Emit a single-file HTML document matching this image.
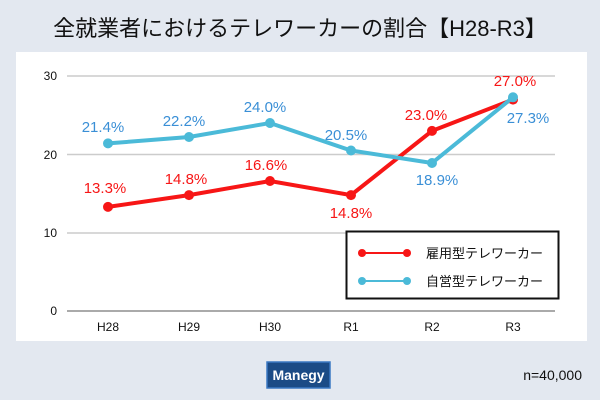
<!DOCTYPE html>
<html><head><meta charset="utf-8"><style>
body{margin:0;width:600px;height:400px;background:#e3e8f0;font-family:"Liberation Sans","Noto Sans CJK JP",sans-serif;overflow:hidden;position:relative}
</style></head><body>
<div style="position:absolute;left:0;top:11px;width:600px;text-align:center;font-size:22px;color:#111;">全就業者におけるテレワーカーの割合【H28-R3】</div>
<svg style="position:absolute;left:0;top:0" width="600" height="400" font-family="Liberation Sans, Noto Sans CJK JP, sans-serif">
<rect x="16" y="52" width="571" height="289" fill="#fff"/>
<g stroke="#ccc" stroke-width="1.5">
<line x1="67" y1="76" x2="555" y2="76"/><line x1="67" y1="154.5" x2="555" y2="154.5"/><line x1="67" y1="233" x2="555" y2="233"/>
</g>
<line x1="67" y1="311" x2="555" y2="311" stroke="#aaa" stroke-width="2"/>
<g font-size="12" fill="#111" text-anchor="end"><text x="57" y="80">30</text><text x="57" y="159">20</text><text x="57" y="237">10</text><text x="57" y="315">0</text></g>
<g font-size="12" fill="#111" text-anchor="middle"><text x="108" y="331">H28</text><text x="189" y="331">H29</text><text x="270" y="331">H30</text><text x="351" y="331">R1</text><text x="432" y="331">R2</text><text x="513" y="331">R3</text></g>
<polyline fill="none" stroke="#f71616" stroke-width="4" points="108,206.9 189,195.1 270,181 351,195.1 432,130.9 513,99.6"/>
<g fill="#f71616"><circle cx="108" cy="206.9" r="5"/><circle cx="189" cy="195.1" r="5"/><circle cx="270" cy="181" r="5"/><circle cx="351" cy="195.1" r="5"/><circle cx="432" cy="130.9" r="5"/><circle cx="513" cy="99.6" r="5"/></g>
<polyline fill="none" stroke="#4bbad8" stroke-width="4" points="108,143.4 189,137 270,123 351,150.5 432,163 513,97.3"/>
<g fill="#4bbad8"><circle cx="108" cy="143.4" r="5"/><circle cx="189" cy="137" r="5"/><circle cx="270" cy="123" r="5"/><circle cx="351" cy="150.5" r="5"/><circle cx="432" cy="163" r="5"/><circle cx="513" cy="97.3" r="5"/></g>
<g font-size="15" fill="#3a8fd6" text-anchor="middle"><text x="103" y="132">21.4%</text><text x="184" y="126">22.2%</text><text x="265" y="112">24.0%</text><text x="346" y="140">20.5%</text><text x="437" y="185">18.9%</text><text x="528" y="123">27.3%</text></g>
<g font-size="15" fill="#f71616" text-anchor="middle"><text x="105" y="193">13.3%</text><text x="186" y="184">14.8%</text><text x="266" y="170">16.6%</text><text x="351" y="218">14.8%</text><text x="426" y="120">23.0%</text><text x="515" y="86">27.0%</text></g>
<rect x="346.5" y="231.5" width="212" height="67" fill="#fff" stroke="#111" stroke-width="2"/>
<line x1="362" y1="253" x2="407" y2="253" stroke="#f71616" stroke-width="2"/><circle cx="362" cy="253" r="4" fill="#f71616"/><circle cx="407" cy="253" r="4" fill="#f71616"/>
<line x1="362" y1="281" x2="407" y2="281" stroke="#4bbad8" stroke-width="2"/><circle cx="362" cy="281" r="4" fill="#4bbad8"/><circle cx="407" cy="281" r="4" fill="#4bbad8"/>
<g font-size="13" fill="#111"><text x="426" y="258">雇用型テレワーカー</text><text x="426" y="286">自営型テレワーカー</text></g>
<rect x="267" y="362" width="63" height="26" fill="#1b4b86" stroke="#3a78c2" stroke-width="1.5"/>
<text x="298.5" y="380" font-size="14" font-weight="bold" fill="#fff" text-anchor="middle">Manegy</text>
<text x="582" y="380" font-size="14" fill="#111" text-anchor="end">n=40,000</text>
</svg>
</body></html>
